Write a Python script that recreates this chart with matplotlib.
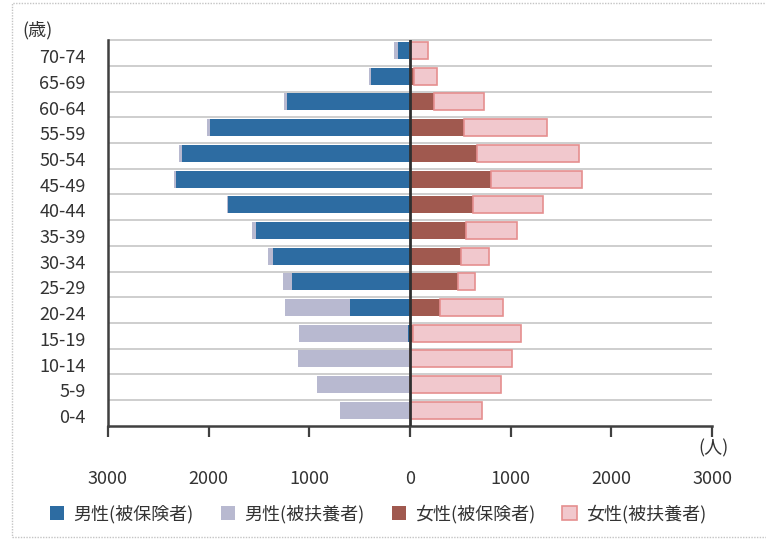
import numpy as np
import matplotlib
matplotlib.use("Agg")
import matplotlib.pyplot as plt
from matplotlib.patches import Patch, Rectangle
from matplotlib.ticker import FuncFormatter

plt.rcParams["font.family"] = ["Noto Sans CJK JP", "DejaVu Sans"]

# age groups, youngest first (drawn bottom to top)
ages = ["0-4", "5-9", "10-14", "15-19", "20-24", "25-29", "30-34", "35-39",
        "40-44", "45-49", "50-54", "55-59", "60-64", "65-69", "70-74"]
male_ins = [0, 0, 0, 20, 600, 1170, 1360, 1525, 1805, 2320, 2265, 1990, 1220, 390, 120]
male_dep = [700, 925, 1115, 1085, 645, 90, 55, 40, 10, 20, 25, 30, 35, 15, 35]
female_ins = [0, 0, 0, 30, 300, 473, 507, 557, 627, 807, 667, 533, 240, 40, 0]
female_dep = [717, 907, 1010, 1070, 623, 174, 276, 503, 690, 903, 1010, 830, 500, 230, 180]
xticks = [-3000, -2000, -1000, 0, 1000, 2000, 3000]
labels = ["男性(被保険者)", "男性(被扶養者)", "女性(被保険者)", "女性(被扶養者)"]

C_MI, C_MD = "#2d6ca2", "#b8b9d0"
C_FI, C_FD, E_FD = "#a0594f", "#f1c8cd", "#e58f8f"

mi, md = np.array(male_ins), np.array(male_dep)
fi, fd = np.array(female_ins), np.array(female_dep)
y = np.arange(len(ages))

fig = plt.figure(figsize=(7.66, 5.39), dpi=100)
fig.patches.append(Rectangle((12 / 766, 2 / 539), 1.0, 534 / 539, transform=fig.transFigure,
                             fill=False, ec="#c4c4c4", lw=1.0, ls=(0, (1, 1))))
ax = fig.add_axes([108 / 766, 113.3 / 539, 604 / 766, 385.4 / 539])

by = y + 0.1
h = 0.66
ax.barh(by, -mi, height=h, color=C_MI, zorder=3)
ax.barh(by, -md, left=-mi, height=h, color=C_MD, zorder=3)
ax.barh(by, fi, height=h, color=C_FI, zorder=3)
ax.barh(by, fd, left=fi, height=h, color=C_FD, ec=E_FD, lw=1.2, zorder=3)

# row separators
ax.hlines(y[1:] - 0.5, -3000, 3000, color="#c6c6c6", lw=1.2, zorder=1)
ax.hlines([len(ages) - 0.5], -3000, 3000, color="#c6c6c6", lw=1.2, zorder=1, clip_on=False)
ax.axvline(0, color="#303030", lw=2, zorder=4)

ax.set_xlim(-3000, 3000)
ax.set_ylim(-0.5, len(ages) - 0.5)
ax.set_xticks(xticks)
ax.xaxis.set_major_formatter(FuncFormatter(lambda v, p: f"{abs(int(v))}"))
ax.tick_params(axis="x", direction="out", length=8, width=1.6, color="#404040",
               labelsize=13, pad=24, labelcolor="#333333")
ax.set_yticks(y - 0.12)
ax.set_yticklabels(ages)
ax.tick_params(axis="y", length=0, labelsize=13, pad=16, labelcolor="#333333")
for s in ("top", "right"):
    ax.spines[s].set_visible(False)
for s in ("left", "bottom"):
    ax.spines[s].set_color("#404040")
    ax.spines[s].set_linewidth(1.8)

fig.text(37 / 766, 1 - 30 / 539, "(歳)", ha="center", va="center", fontsize=13, color="#333333")
fig.text(713 / 766, 1 - 448 / 539, "(人)", ha="center", va="center", fontsize=13, color="#333333")

handles = [Patch(fc=C_MI), Patch(fc=C_MD), Patch(fc=C_FI), Patch(fc=C_FD, ec=E_FD, lw=1.2)]
fig.legend(handles, labels, loc="center", bbox_to_anchor=(378 / 766, 1 - 514 / 539), ncol=4,
           frameon=False, fontsize=13, handlelength=0.8, handleheight=0.8,
           handletextpad=0.5, columnspacing=1.5, labelcolor="#333333")

fig.savefig("out.png", dpi=100)
